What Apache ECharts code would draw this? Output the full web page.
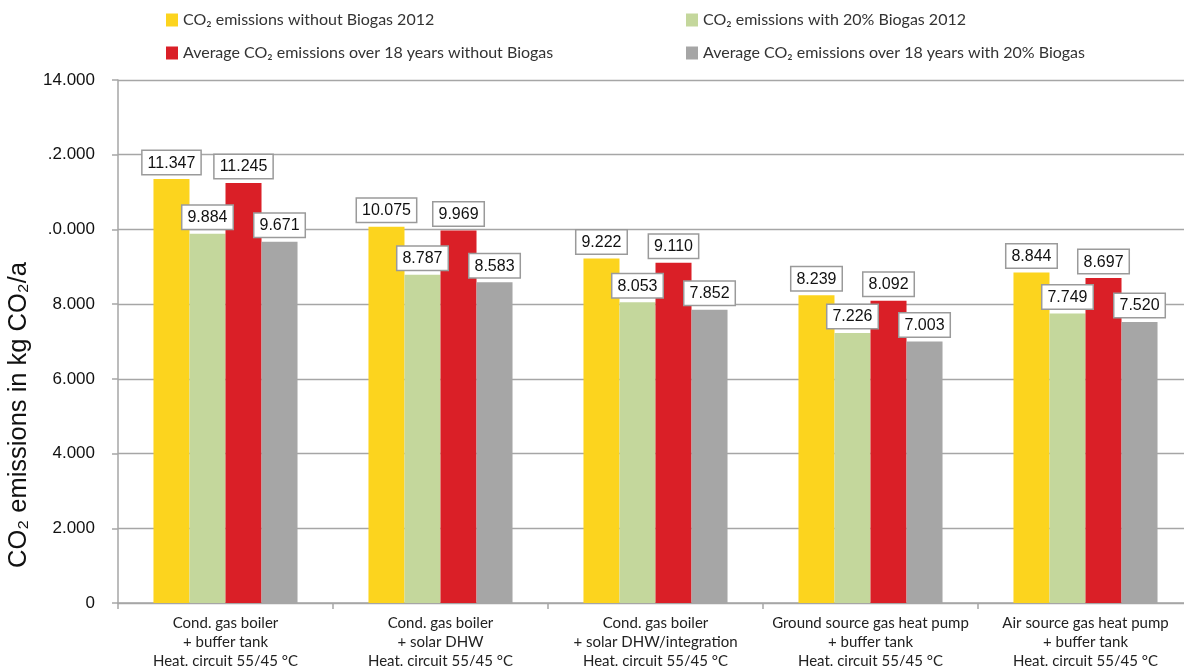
<!DOCTYPE html>
<html>
<head>
<meta charset="utf-8">
<script src="https://cdn.jsdelivr.net/npm/echarts@6/dist/echarts.min.js"></script>
<style>
  html, body { margin: 0; padding: 0; background: #fff; }
  #chart { width: 1184px; height: 666px; }
</style>
</head>
<body>
<div id="chart"></div>
<script>
// Heating systems compared
const categories = [
  'Cond. gas boiler\n+ buffer tank\nHeat. circuit 55/45 °C',
  'Cond. gas boiler\n+ solar DHW\nHeat. circuit 55/45 °C',
  'Cond. gas boiler\n+ solar DHW/integration\nHeat. circuit 55/45 °C',
  'Ground source gas heat pump\n+ buffer tank\nHeat. circuit 55/45 °C',
  'Air source gas heat pump\n+ buffer tank\nHeat. circuit 55/45 °C'
];

// CO2 emissions in kg CO2 per year
const without2012 = [11347, 10075, 9222, 8239, 8844];
const with20pct2012 = [9884, 8787, 8053, 7226, 7749];
const avg18without = [11245, 9969, 9110, 8092, 8697];
const avg18with20pct = [9671, 8583, 7852, 7003, 7520];

const seriesNames = [
  'CO₂ emissions without Biogas 2012',
  'CO₂ emissions with 20% Biogas 2012',
  'Average CO₂ emissions over 18 years without Biogas',
  'Average CO₂ emissions over 18 years with 20% Biogas'
];

// y-axis tick labels, bottom to top
const yTickLabels = ['0', '2.000', '4.000', '6.000', '8.000', '.0.000', '.2.000', '14.000'];

const colors = ['#FCD41E', '#C4D79C', '#DA1F27', '#A6A6A6'];

// German thousands separator: 11347 -> "11.347"
function fmt(v) {
  const k = Math.floor(v / 1000);
  const r = String(v % 1000).padStart(3, '0');
  return k + '.' + r;
}

const chart = echarts.init(document.getElementById('chart'), null, { renderer: 'canvas' });

const labelStyle = {
  show: true,
  position: 'top',
  distance: 5,
  formatter: p => fmt(p.value),
  fontFamily: 'Liberation Sans',
  fontSize: 16,
  color: '#111',
  backgroundColor: '#fff',
  borderColor: '#9a9a9a',
  borderWidth: 1.5,
  padding: [4, 5, 3, 5]
};

const dataSets = [without2012, with20pct2012, avg18without, avg18with20pct];

const legendText = { fontFamily: 'Lato', fontSize: 16, color: '#333' };

chart.setOption({
  animation: false,
  color: colors,
  legend: [
    {
      data: [seriesNames[0], seriesNames[2]],
      orient: 'vertical',
      left: 161, top: 7,
      itemWidth: 12, itemHeight: 13, itemGap: 17,
      icon: 'rect',
      textStyle: legendText
    },
    {
      data: [seriesNames[1], seriesNames[3]],
      orient: 'vertical',
      left: 681, top: 7,
      itemWidth: 12, itemHeight: 13, itemGap: 17,
      icon: 'rect',
      textStyle: legendText
    }
  ],
  grid: {
    left: 118, right: -9, top: 80, bottom: 63,
    containLabel: false,
    outerBoundsMode: 'none'
  },
  xAxis: {
    type: 'category',
    data: categories,
    axisLine: { lineStyle: { color: '#a6a6a6', width: 1.5 } },
    axisTick: { show: true, length: 6, lineStyle: { color: '#a6a6a6', width: 1.5 } },
    axisLabel: {
      interval: 0,
      margin: 11,
      fontFamily: 'Lato',
      fontSize: 15,
      lineHeight: 19,
      color: '#222'
    }
  },
  yAxis: {
    type: 'value',
    min: 0, max: 14000, interval: 2000,
    name: 'CO₂ emissions in kg CO₂/a',
    nameLocation: 'middle',
    nameGap: 84,
    nameTextStyle: {
      fontFamily: 'Liberation Sans',
      fontSize: 25.5,
      color: '#111',
      padding: [0, 147, 0, 0]
    },
    axisLine: { show: true, lineStyle: { color: '#a6a6a6', width: 1.5 } },
    axisTick: { show: true, length: 6, lineStyle: { color: '#a6a6a6', width: 1.5 } },
    splitLine: { lineStyle: { color: '#a6a6a6', width: 1.3 } },
    axisLabel: {
      margin: 23,
      fontFamily: 'Liberation Sans',
      fontSize: 17,
      color: '#111',
      formatter: (v) => yTickLabels[Math.round(v / 2000)]
    }
  },
  series: dataSets.map((d, i) => ({
    name: seriesNames[i],
    type: 'bar',
    data: d,
    barGap: '0%',
    barCategoryGap: '33%',
    label: labelStyle
  }))
});
</script>
</body>
</html>
